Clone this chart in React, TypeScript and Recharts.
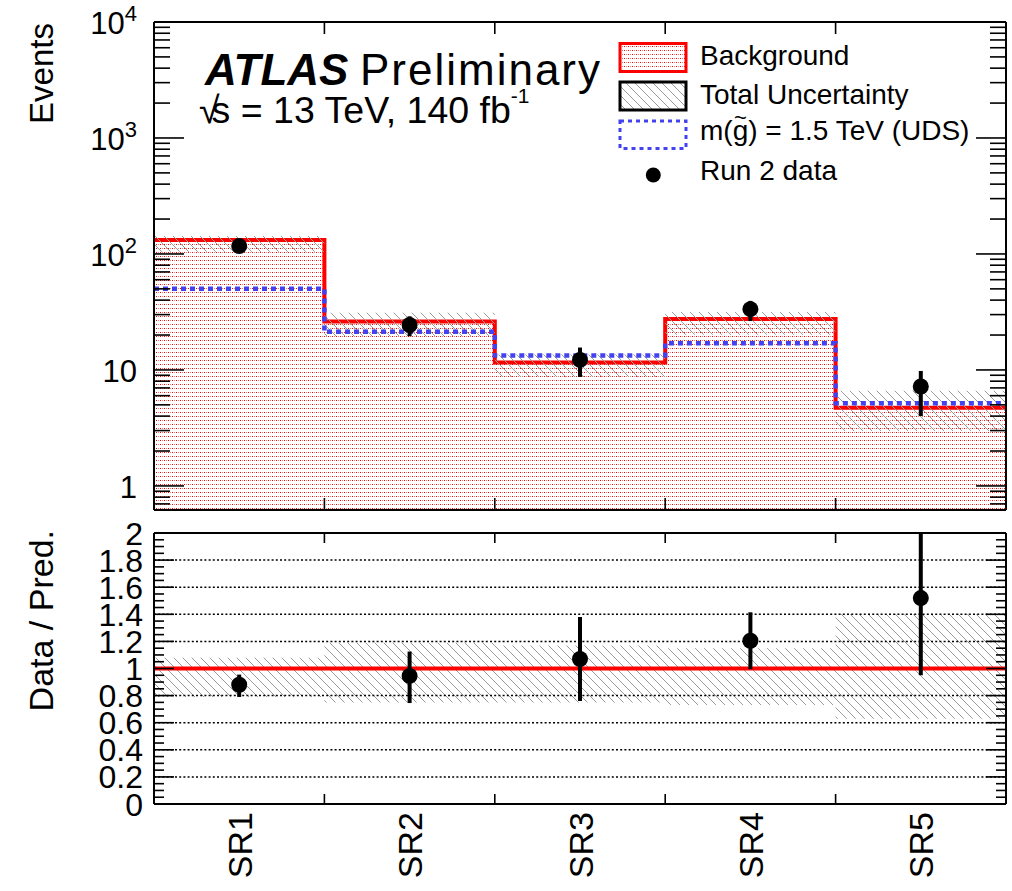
import {
  Area,
  ComposedChart,
  ErrorBar,
  Legend,
  Line,
  ReferenceLine,
  Scatter,
  XAxis,
  YAxis,
} from "recharts";

// Signal regions and event yields per bin
const REGIONS = ["SR1", "SR2", "SR3", "SR4", "SR5"];
const BACKGROUND = [132, 26.1, 11.6, 27.5, 4.73];
const SIGNAL = [50, 21.3, 13.3, 17.0, 5.16];
const DATA = [117, 24.4, 12.2, 33.4, 7.2];
const DATA_ERR_DOWN = [10.8, 4.9, 3.5, 7.0, 3.2];
const DATA_ERR_UP = [10.8, 4.6, 3.4, 6.0, 2.6];

// Total uncertainty band, relative to the background prediction
const UNC_DOWN = [0.79, 0.75, 0.75, 0.73, 0.63];
const UNC_UP = [1.08, 1.19, 1.17, 1.15, 1.4];

// Data / prediction (SR5 upper error runs past the frame, cut at 2)
const RATIO = [0.88, 0.945, 1.07, 1.205, 1.52];
const RATIO_ERR_DOWN = [0.09, 0.2, 0.31, 0.21, 0.57];
const RATIO_ERR_UP = [0.075, 0.18, 0.31, 0.21, 0.48];

// Axis ticks
const LOG_DOMAIN = [0.62, 10000];
const LOG_MAJOR = [1, 10, 100, 1000, 10000];
const LOG_MANTISSA = ["1", "10", "10", "10", "10"];
const LOG_EXPONENT = ["", "", "2", "3", "4"];
const LOG_MINOR = [
  0.7,
  0.8,
  0.9,
  ...[1, 10, 100, 1000].flatMap((d) => [2, 3, 4, 5, 6, 7, 8, 9].map((m) => m * d)),
];
const RATIO_MAJOR = [0, 0.2, 0.4, 0.6, 0.8, 1, 1.2, 1.4, 1.6, 1.8, 2];
const RATIO_LABELS = ["0", "0.2", "0.4", "0.6", "0.8", "1", "1.2", "1.4", "1.6", "1.8", "2"];
const RATIO_MINOR = Array.from({ length: 40 }, (_, i) => i * 0.05).filter((_, i) => i % 4 !== 0);
const RATIO_GRID = [0.2, 0.4, 0.6, 0.8, 1, 1.2, 1.4, 1.6, 1.8];
const BIN_EDGES = [1, 2, 3, 4];
const BIN_CENTRES = [0.5, 1.5, 2.5, 3.5, 4.5];

const FONT = '"Liberation Sans", Arial, Helvetica, sans-serif';
const RED = "#ff0000";
const BLUE = "#4242f0";
const HATCH = "#9a9a9a";

// histogram rows at the bin edges, last bin repeated so stepAfter closes it
const topRows = Array.from({ length: REGIONS.length + 1 }, (_, x) => {
  const i = Math.min(x, REGIONS.length - 1);
  return {
    x,
    bkg: BACKGROUND[i],
    sig: SIGNAL[i],
    unc: [BACKGROUND[i] * UNC_DOWN[i], BACKGROUND[i] * UNC_UP[i]],
  };
});

const ratioRows = Array.from({ length: REGIONS.length + 1 }, (_, x) => {
  const i = Math.min(x, REGIONS.length - 1);
  return { x, unc: [UNC_DOWN[i], UNC_UP[i]] };
});

const dataPoints = REGIONS.map((_, i) => ({
  x: BIN_CENTRES[i],
  y: DATA[i],
  err: [DATA_ERR_DOWN[i], DATA_ERR_UP[i]],
}));

const ratioPoints = REGIONS.map((_, i) => ({
  x: BIN_CENTRES[i],
  y: RATIO[i],
  err: [RATIO_ERR_DOWN[i], RATIO_ERR_UP[i]],
}));

function Patterns({ prefix }: { prefix: string }) {
  return (
    <defs>
      <pattern id={`${prefix}-dots`} width={4} height={4} patternUnits="userSpaceOnUse">
        <rect x={0} y={0} width={4} height={4} fill="#fff" />
        <rect x={0} y={0} width={1} height={1} fill={RED} />
        <rect x={2} y={0} width={1} height={1} fill="#ff7878" />
      </pattern>
      <pattern id={`${prefix}-hatch`} width={9} height={9} patternUnits="userSpaceOnUse">
        <path d="M0,0 L9,9 M-2,7 L2,11 M7,-2 L11,2" stroke={HATCH} strokeWidth={1} />
      </pattern>
    </defs>
  );
}

// inward tick marks, ROOT style
function LogTickLeft(p: any) {
  const k = LOG_MAJOR.indexOf(p.payload.value);
  return (
    <g>
      <line x1={p.x} x2={p.x + (k >= 0 ? 30 : 16)} y1={p.y} y2={p.y} stroke="#000" strokeWidth={1.6} />
      {k >= 0 && (
        <text x={p.x - 17} y={p.y + 12} textAnchor="end" fontSize={31} fill="#000" fontFamily={FONT}>
          {LOG_MANTISSA[k]}
          {LOG_EXPONENT[k] && (
            <tspan dy={-13} fontSize={22}>
              {LOG_EXPONENT[k]}
            </tspan>
          )}
        </text>
      )}
    </g>
  );
}

function LogTickRight(p: any) {
  const major = LOG_MAJOR.includes(p.payload.value);
  return <line x1={p.x} x2={p.x - (major ? 30 : 16)} y1={p.y} y2={p.y} stroke="#000" strokeWidth={1.6} />;
}

function RatioTickLeft(p: any) {
  const k = RATIO_MAJOR.indexOf(p.payload.value);
  return (
    <g>
      <line x1={p.x} x2={p.x + (k >= 0 ? 20 : 10)} y1={p.y} y2={p.y} stroke="#000" strokeWidth={1.6} />
      {k >= 0 && (
        <text x={p.x - 11} y={p.y + 11.5} textAnchor="end" fontSize={32} fill="#000" fontFamily={FONT}>
          {RATIO_LABELS[k]}
        </text>
      )}
    </g>
  );
}

function RatioTickRight(p: any) {
  const major = RATIO_MAJOR.includes(p.payload.value);
  return <line x1={p.x} x2={p.x - (major ? 20 : 10)} y1={p.y} y2={p.y} stroke="#000" strokeWidth={1.6} />;
}

const edgeTick = (len: number) => (p: any) =>
  <line x1={p.x} x2={p.x} y1={p.y} y2={p.y + len} stroke="#000" strokeWidth={1.6} />;

function RegionTick(p: any) {
  const v = p.payload.value;
  if (Number.isInteger(v)) {
    return <line x1={p.x} x2={p.x} y1={p.y} y2={p.y - 10} stroke="#000" strokeWidth={1.6} />;
  }
  return (
    <text
      transform={`translate(${p.x + 12.5},${p.y + 8}) rotate(-90)`}
      textAnchor="end"
      fontSize={34}
      fill="#000"
      fontFamily={FONT}
    >
      {REGIONS[Math.floor(v)]}
    </text>
  );
}

function LegendBox() {
  return (
    <svg width={410} height={170} style={{ display: "block", overflow: "visible" }} fontFamily={FONT}>
      <Patterns prefix="leg" />
      <rect x={20} y={13.5} width={66} height={28} fill="url(#leg-dots)" stroke={RED} strokeWidth={3} />
      <text x={100} y={35} fontSize={28}>Background</text>
      <rect x={20} y={52} width={66} height={28} fill="url(#leg-hatch)" stroke="#000" strokeWidth={3} />
      <text x={100} y={74} fontSize={28}>Total Uncertainty</text>
      <rect x={20} y={91} width={66} height={27.5} fill="#fff" stroke={BLUE} strokeWidth={3} strokeDasharray="4 4" />
      <text x={100} y={110} fontSize={28}>m(g) = 1.5 TeV (UDS)</text>
      <text x={140.5} y={95} fontSize={22} textAnchor="middle">~</text>
      <circle cx={53.3} cy={145} r={7.5} fill="#000" />
      <text x={100} y={150} fontSize={28}>Run 2 data</text>
    </svg>
  );
}

const axisLine = { stroke: "#000", strokeWidth: 2 };

export default function App() {
  return (
    <div
      style={{
        position: "absolute",
        left: 0,
        top: 0,
        width: 1012,
        height: 891,
        background: "#fff",
        fontFamily: FONT,
      }}
    >
      <div style={{ position: "absolute", left: 0, top: 0 }}>
        <ComposedChart width={1012} height={520} data={topRows} margin={{ top: 21, right: 5, bottom: 9, left: 0 }}>
          <Patterns prefix="top" />
          <XAxis
            xAxisId="b"
            dataKey="x"
            type="number"
            domain={[0, 5]}
            allowDataOverflow
            ticks={BIN_EDGES}
            interval={0}
            height={1}
            tickSize={0}
            tickMargin={0}
            tickLine={false}
            axisLine={axisLine}
            tick={edgeTick(-12)}
          />
          <XAxis
            xAxisId="t"
            orientation="top"
            type="number"
            domain={[0, 5]}
            allowDataOverflow
            ticks={BIN_EDGES}
            interval={0}
            height={1}
            tickSize={0}
            tickMargin={0}
            tickLine={false}
            axisLine={axisLine}
            tick={edgeTick(12)}
          />
          <YAxis
            yAxisId="l"
            type="number"
            scale="log"
            domain={LOG_DOMAIN}
            allowDataOverflow
            ticks={[...LOG_MAJOR, ...LOG_MINOR]}
            interval={0}
            width={154}
            tickSize={0}
            tickMargin={0}
            tickLine={false}
            axisLine={axisLine}
            tick={LogTickLeft}
          />
          <YAxis
            yAxisId="r"
            orientation="right"
            type="number"
            scale="log"
            domain={LOG_DOMAIN}
            allowDataOverflow
            ticks={[...LOG_MAJOR, ...LOG_MINOR]}
            interval={0}
            width={1}
            tickSize={0}
            tickMargin={0}
            tickLine={false}
            axisLine={axisLine}
            tick={LogTickRight}
          />
          <Area
            xAxisId="b"
            yAxisId="l"
            type="stepAfter"
            dataKey="bkg"
            baseValue={LOG_DOMAIN[0]}
            fill="url(#top-dots)"
            fillOpacity={1}
            stroke={RED}
            strokeWidth={4}
            isAnimationActive={false}
          />
          <Area
            xAxisId="b"
            yAxisId="l"
            type="stepAfter"
            dataKey="unc"
            fill="url(#top-hatch)"
            fillOpacity={1}
            stroke="none"
            isAnimationActive={false}
          />
          <Line
            xAxisId="b"
            yAxisId="l"
            type="stepAfter"
            dataKey="sig"
            stroke={BLUE}
            strokeWidth={4.5}
            strokeDasharray="5 4"
            dot={false}
            isAnimationActive={false}
          />
          <Scatter
            xAxisId="b"
            yAxisId="l"
            data={dataPoints}
            dataKey="y"
            shape={(p: any) => <circle cx={p.cx} cy={p.cy} r={8} fill="#000" />}
            isAnimationActive={false}
          >
            <ErrorBar dataKey="err" direction="y" width={0} stroke="#000" strokeWidth={4} isAnimationActive={false} />
          </Scatter>
          <Legend
            layout="horizontal"
            verticalAlign="middle"
            align="center"
            wrapperStyle={{ left: 600, top: 30, width: 410 }}
            content={() => <LegendBox />}
          />
          <text x={205} y={84.5} fontSize={44} fontWeight="bold" fontStyle="italic" fontFamily={FONT}>
            ATLAS
          </text>
          <text x={360} y={84.5} fontSize={44} fontFamily={FONT} textLength={240} lengthAdjust="spacing">
            Preliminary
          </text>
          <text x={199} y={123.3} fontSize={37.5} fontFamily={FONT}>
            √<tspan dx={-8}>s = 13 TeV, 140 fb</tspan>
            <tspan dy={-20} fontSize={21}>-1</tspan>
          </text>
          <text transform="translate(53,23) rotate(-90)" textAnchor="end" fontSize={33} fontFamily={FONT}>
            Events
          </text>
        </ComposedChart>
      </div>

      <div style={{ position: "absolute", left: 0, top: 520 }}>
        <ComposedChart width={1012} height={371} data={ratioRows} margin={{ top: 12, right: 5, bottom: 86, left: 0 }}>
          <Patterns prefix="ratio" />
          <XAxis
            xAxisId="b"
            dataKey="x"
            type="number"
            domain={[0, 5]}
            allowDataOverflow
            ticks={[...BIN_EDGES, ...BIN_CENTRES]}
            interval={0}
            height={1}
            tickSize={0}
            tickMargin={0}
            tickLine={false}
            axisLine={axisLine}
            tick={RegionTick}
          />
          <XAxis
            xAxisId="t"
            orientation="top"
            type="number"
            domain={[0, 5]}
            allowDataOverflow
            ticks={BIN_EDGES}
            interval={0}
            height={1}
            tickSize={0}
            tickMargin={0}
            tickLine={false}
            axisLine={axisLine}
            tick={edgeTick(10)}
          />
          <YAxis
            yAxisId="l"
            type="number"
            domain={[0, 2]}
            allowDataOverflow
            ticks={[...RATIO_MAJOR, ...RATIO_MINOR]}
            interval={0}
            width={154}
            tickSize={0}
            tickMargin={0}
            tickLine={false}
            axisLine={axisLine}
            tick={RatioTickLeft}
          />
          <YAxis
            yAxisId="r"
            orientation="right"
            type="number"
            domain={[0, 2]}
            allowDataOverflow
            ticks={[...RATIO_MAJOR, ...RATIO_MINOR]}
            interval={0}
            width={1}
            tickSize={0}
            tickMargin={0}
            tickLine={false}
            axisLine={axisLine}
            tick={RatioTickRight}
          />
          <Area
            xAxisId="b"
            yAxisId="l"
            type="stepAfter"
            dataKey="unc"
            fill="url(#ratio-hatch)"
            fillOpacity={1}
            stroke="none"
            isAnimationActive={false}
          />
          {RATIO_GRID.map((v) => (
            <ReferenceLine
              key={v}
              xAxisId="b"
              yAxisId="l"
              y={v}
              stroke="#000"
              strokeWidth={1.5}
              strokeDasharray="2 2.2"
            />
          ))}
          <ReferenceLine xAxisId="b" yAxisId="l" y={1} stroke={RED} strokeWidth={4} />
          <Scatter
            xAxisId="b"
            yAxisId="l"
            data={ratioPoints}
            dataKey="y"
            shape={(p: any) => <circle cx={p.cx} cy={p.cy} r={8} fill="#000" />}
            isAnimationActive={false}
          >
            <ErrorBar dataKey="err" direction="y" width={0} stroke="#000" strokeWidth={4} isAnimationActive={false} />
          </Scatter>
          <text transform="translate(53,10) rotate(-90)" textAnchor="end" fontSize={34} fontFamily={FONT}>
            Data / Pred.
          </text>
        </ComposedChart>
      </div>
    </div>
  );
}
